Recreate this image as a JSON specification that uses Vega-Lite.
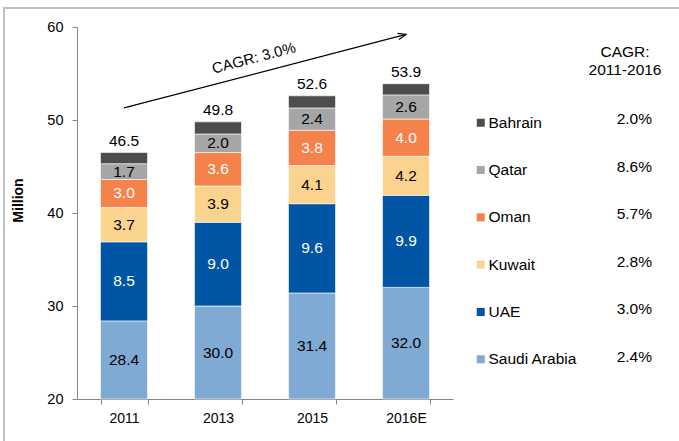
{
  "$schema": "https://vega.github.io/schema/vega-lite/v6.json",
  "width": 676,
  "height": 434,
  "autosize": {"type": "none"},
  "padding": {"left": 4, "top": 8, "right": 0, "bottom": 0},
  "background": "white",
  "config": {
    "font": "Liberation Sans",
    "view": {"stroke": "#c0c0c0", "strokeWidth": 2}
  },
  "datasets": {
    "pop": [
      {"year": "2011", "country": "Saudi Arabia", "value": 28.4},
      {"year": "2011", "country": "UAE", "value": 8.5},
      {"year": "2011", "country": "Kuwait", "value": 3.7},
      {"year": "2011", "country": "Oman", "value": 3.0},
      {"year": "2011", "country": "Qatar", "value": 1.7},
      {"year": "2011", "country": "Bahrain", "value": 1.2},
      {"year": "2013", "country": "Saudi Arabia", "value": 30.0},
      {"year": "2013", "country": "UAE", "value": 9.0},
      {"year": "2013", "country": "Kuwait", "value": 3.9},
      {"year": "2013", "country": "Oman", "value": 3.6},
      {"year": "2013", "country": "Qatar", "value": 2.0},
      {"year": "2013", "country": "Bahrain", "value": 1.3},
      {"year": "2015", "country": "Saudi Arabia", "value": 31.4},
      {"year": "2015", "country": "UAE", "value": 9.6},
      {"year": "2015", "country": "Kuwait", "value": 4.1},
      {"year": "2015", "country": "Oman", "value": 3.8},
      {"year": "2015", "country": "Qatar", "value": 2.4},
      {"year": "2015", "country": "Bahrain", "value": 1.3},
      {"year": "2016E", "country": "Saudi Arabia", "value": 32.0},
      {"year": "2016E", "country": "UAE", "value": 9.9},
      {"year": "2016E", "country": "Kuwait", "value": 4.2},
      {"year": "2016E", "country": "Oman", "value": 4.0},
      {"year": "2016E", "country": "Qatar", "value": 2.6},
      {"year": "2016E", "country": "Bahrain", "value": 1.2}
    ],
    "arrow": [
      {"year": "2011", "v": 51.3},
      {"year": "2016E", "v": 59.2}
    ],
    "cagr": [
      {"country": "Bahrain", "cagr": "2.0%"},
      {"country": "Qatar", "cagr": "8.6%"},
      {"country": "Oman", "cagr": "5.7%"},
      {"country": "Kuwait", "cagr": "2.8%"},
      {"country": "UAE", "cagr": "3.0%"},
      {"country": "Saudi Arabia", "cagr": "2.4%"}
    ]
  },
  "layer": [
    {
      "layer": [
        {
          "data": {"name": "pop"},
          "transform": [
            {"calculate": "indexof(['Saudi Arabia','UAE','Kuwait','Oman','Qatar','Bahrain'], datum.country)", "as": "ord"},
            {"stack": "value", "groupby": ["year"], "sort": [{"field": "ord", "order": "ascending"}], "as": ["y0", "y1"]}
          ],
          "mark": {"type": "bar", "stroke": "white", "strokeWidth": 0.6},
          "encoding": {
            "x": {
              "field": "year", "type": "nominal",
              "scale": {"domain": ["2011", "2013", "2015", "2016E"], "range": [73, 449], "paddingInner": 0.5, "paddingOuter": 0.25},
              "axis": {"title": null, "orient": "bottom", "offset": -43, "tickBand": "extent", "tickSize": 5, "labelPadding": 7, "labelFontSize": 14, "labelColor": "#000000", "labelAngle": 0, "domainColor": "#868686", "tickColor": "#868686", "grid": false}
            },
            "y": {
              "field": "y1", "type": "quantitative", "title": "Million",
              "scale": {"domain": [20, 60], "range": [391, 19], "clamp": true, "nice": false, "zero": false},
              "axis": {"values": [20, 30, 40, 50, 60], "offset": -73, "tickSize": 5, "labelPadding": 9, "grid": false, "domainColor": "#868686", "tickColor": "#868686", "labelFontSize": 14.5, "labelColor": "#000000", "titleFontSize": 14, "titleFontWeight": "bold", "titleColor": "#000000", "titleX": -59, "titleY": 192, "titleAngle": -90, "titleBaseline": "middle", "titleAlign": "center"}
            },
            "y2": {"field": "y0"},
            "color": {
              "field": "country", "type": "nominal",
              "scale": {"domain": ["Saudi Arabia", "UAE", "Kuwait", "Oman", "Qatar", "Bahrain"], "range": ["#7FAAD3", "#0055A5", "#FAD38E", "#F5824A", "#A6A6A6", "#4D4D4D"]},
              "legend": {"orient": "none", "legendX": 469, "legendY": 107, "title": null, "values": ["Bahrain", "Qatar", "Oman", "Kuwait", "UAE", "Saudi Arabia"], "symbolType": "square", "symbolSize": 64, "symbolStrokeWidth": 0, "labelFontSize": 15.5, "labelColor": "#000000", "labelOffset": 0, "rowPadding": 30.3}
            }
          }
        },
        {
          "data": {"name": "pop"},
          "transform": [
            {"calculate": "indexof(['Saudi Arabia','UAE','Kuwait','Oman','Qatar','Bahrain'], datum.country)", "as": "ord"},
            {"stack": "value", "groupby": ["year"], "sort": [{"field": "ord", "order": "ascending"}], "as": ["y0", "y1"]},
            {"calculate": "(max(datum.y0, 20) + datum.y1) / 2", "as": "mid"},
            {"filter": "datum.country !== 'Bahrain'"}
          ],
          "mark": {"type": "text", "fontSize": 15.5, "baseline": "middle", "align": "center"},
          "encoding": {
            "x": {"field": "year", "type": "nominal"},
            "y": {"field": "mid", "type": "quantitative", "title": "Million"},
            "text": {"field": "value", "type": "quantitative", "format": ".1f"},
            "color": {"condition": {"test": "datum.country === 'UAE' || datum.country === 'Oman'", "value": "white"}, "value": "#000000"}
          }
        },
        {
          "data": {"name": "pop"},
          "mark": {"type": "text", "fontSize": 15.5, "baseline": "bottom", "align": "center", "dy": -4, "color": "#000000"},
          "encoding": {
            "x": {"field": "year", "type": "nominal"},
            "y": {"aggregate": "sum", "field": "value", "type": "quantitative", "stack": null, "title": "Million"},
            "text": {"aggregate": "sum", "field": "value", "type": "quantitative", "format": ".1f"}
          }
        },
        {
          "data": {"name": "arrow"},
          "mark": {"type": "line", "color": "#000000", "strokeWidth": 1.2},
          "encoding": {
            "x": {"field": "year", "type": "nominal"},
            "y": {"field": "v", "type": "quantitative", "title": "Million"}
          }
        },
        {
          "data": {"name": "arrow"},
          "transform": [{"filter": "datum.year === '2016E'"}],
          "mark": {"type": "point", "shape": "M-1,-0.4L0,0L-1,0.4", "filled": false, "stroke": "#000000", "strokeWidth": 1.2, "size": 256, "angle": -14.7, "opacity": 1},
          "encoding": {
            "x": {"field": "year", "type": "nominal"},
            "y": {"field": "v", "type": "quantitative", "title": "Million"}
          }
        },
        {
          "data": {"values": [{"year": "2013", "v": 55.66, "label": "CAGR: 3.0%"}]},
          "mark": {"type": "text", "fontSize": 15, "angle": -14.7, "dx": 37, "align": "center", "baseline": "middle", "color": "#000000"},
          "encoding": {
            "x": {"field": "year", "type": "nominal"},
            "y": {"field": "v", "type": "quantitative", "title": "Million"},
            "text": {"field": "label"}
          }
        },
        {
          "data": {"values": [{"label": "CAGR header"}]},
          "mark": {"type": "text", "fontSize": 15.5, "align": "center", "baseline": "top", "lineHeight": 18, "color": "#000000", "text": ["CAGR:", "2011-2016"]},
          "encoding": {
            "x": {"value": 621},
            "y": {"value": 37}
          }
        }
      ]
    },
    {
      "data": {"name": "cagr"},
      "mark": {"type": "text", "fontSize": 15.5, "align": "right", "baseline": "middle", "color": "#000000"},
      "encoding": {
        "x": {"value": 648},
        "y": {"field": "country", "type": "nominal", "scale": {"type": "point", "domain": ["Bahrain", "Qatar", "Oman", "Kuwait", "UAE", "Saudi Arabia"], "range": [111, 349], "padding": 0}, "axis": null},
        "text": {"field": "cagr"}
      }
    }
  ],
  "resolve": {"scale": {"y": "independent", "x": "independent"}}
}
